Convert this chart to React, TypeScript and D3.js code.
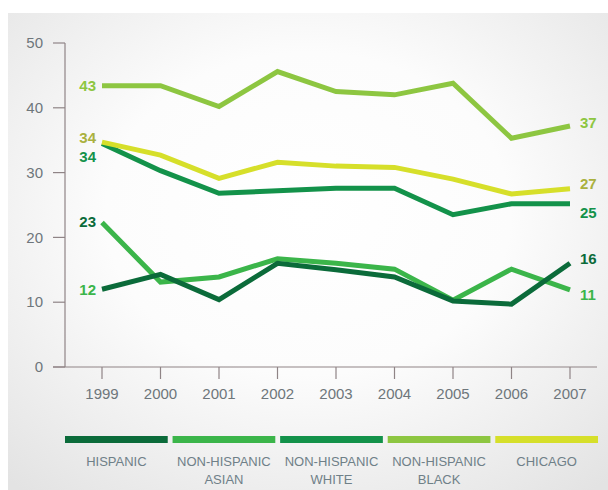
import React from "react";
import * as d3 from "d3";

const years = [1999, 2000, 2001, 2002, 2003, 2004, 2005, 2006, 2007];
const hispanic = [12.0, 14.3, 10.4, 16.0, 15.0, 13.9, 10.2, 9.7, 16.0];
const asian = [22.3, 13.1, 13.9, 16.7, 16.0, 15.1, 10.3, 15.1, 11.9];
const white = [34.5, 30.3, 26.8, 27.2, 27.6, 27.6, 23.5, 25.2, 25.2];
const black = [43.4, 43.4, 40.2, 45.6, 42.5, 42.0, 43.8, 35.3, 37.2];
const chicago = [34.7, 32.7, 29.1, 31.6, 31.0, 30.8, 29.0, 26.7, 27.5];
const yTicks = [0, 10, 20, 30, 40, 50];
const legendNames = [
  ["HISPANIC"],
  ["NON-HISPANIC", "ASIAN"],
  ["NON-HISPANIC", "WHITE"],
  ["NON-HISPANIC", "BLACK"],
  ["CHICAGO"],
];
const startLabels = ["12", "23", "34", "43", "34"];
const endLabels = ["16", "11", "25", "37", "27"];

const colors = ["#0b6b3a", "#3bb54a", "#13924a", "#8dc641", "#d6df2a"];
const labelColors = ["#0b6b3a", "#3bb54a", "#13924a", "#8dc641", "#aab13e"];

export default function App() {
  const W = 608;
  const H = 490;
  const x = d3.scaleLinear().domain([1999, 2007]).range([102, 570]);
  const y = d3.scaleLinear().domain([0, 50]).range([367, 43]);
  const series = [hispanic, asian, white, black, chicago];
  const drawOrder = [3, 2, 4, 1, 0];
  const line = d3
    .line<number>()
    .x((_, i) => x(years[i]))
    .y((d) => y(d));

  const startCfg = [
    { s: 0, c: 1, dy: 1 },
    { s: 1, c: 0, dy: -1 },
    { s: 2, c: 2, dy: 13 },
    { s: 3, c: 3, dy: 0 },
    { s: 4, c: 4, dy: -4 },
  ];
  const endCfg = [
    { s: 0, c: 0, dy: -5 },
    { s: 1, c: 1, dy: 5 },
    { s: 2, c: 2, dy: 9 },
    { s: 3, c: 3, dy: -3 },
    { s: 4, c: 4, dy: -5 },
  ];

  const legendX = d3.scaleBand().domain(legendNames.map((_, i) => String(i))).range([65, 598]).paddingInner(0.045);

  const font = "'Liberation Sans', Arial, Helvetica, sans-serif";
  const tickColor = "#6e767b";
  const axisColor = "#8f8486";

  return (
    <svg width={W} height={H} style={{ position: "absolute", left: 0, top: 0 }} fontFamily={font}>
      <defs>
        <radialGradient id="bg" cx="0.5" cy="0.42" r="0.75">
          <stop offset="0" stopColor="#ffffff" />
          <stop offset="0.45" stopColor="#fcfcfc" />
          <stop offset="1" stopColor="#e3e3e3" />
        </radialGradient>
      </defs>
      <rect x={0} y={0} width={W} height={H} fill="#ffffff" />
      <rect x={8} y={13} width={W - 8} height={H - 13} fill="url(#bg)" />

      <line x1={65} x2={65} y1={y(50)} y2={y(0)} stroke={axisColor} strokeWidth={1.2} />
      {yTicks.map((t) => (
        <g key={t}>
          <line x1={53} x2={65} y1={y(t)} y2={y(t)} stroke={axisColor} strokeWidth={1.2} />
          <text x={43} y={y(t)} dy="0.35em" textAnchor="end" fontSize={15} fill={tickColor}>
            {t}
          </text>
        </g>
      ))}

      <line x1={53} x2={597} y1={y(0)} y2={y(0)} stroke={axisColor} strokeWidth={1.2} />
      {years.map((yr) => (
        <g key={yr}>
          <line x1={x(yr)} x2={x(yr)} y1={y(0)} y2={y(0) + 12} stroke={axisColor} strokeWidth={1.2} />
          <text x={x(yr)} y={394} dy="0.35em" textAnchor="middle" fontSize={15} fill={tickColor}>
            {yr}
          </text>
        </g>
      ))}

      {drawOrder.map((i) => (
        <path
          key={i}
          d={line(series[i]) || ""}
          fill="none"
          stroke={colors[i]}
          strokeWidth={5}
          strokeLinejoin="miter"
        />
      ))}

      {startCfg.map((c, k) => (
        <text
          key={"s" + k}
          x={x(years[0]) - 6}
          y={y(series[c.s][0]) + c.dy}
          dy="0.35em"
          textAnchor="end"
          fontSize={15}
          fontWeight="bold"
          fill={labelColors[c.c]}
        >
          {startLabels[c.s]}
        </text>
      ))}
      {endCfg.map((c, k) => (
        <text
          key={"e" + k}
          x={x(years[years.length - 1]) + 10}
          y={y(series[c.s][years.length - 1]) + c.dy}
          dy="0.35em"
          textAnchor="start"
          fontSize={15}
          fontWeight="bold"
          fill={labelColors[c.c]}
        >
          {endLabels[c.s]}
        </text>
      ))}

      {legendNames.map((lines, i) => {
        const bx = legendX(String(i)) || 0;
        const bw = legendX.bandwidth();
        return (
          <g key={"l" + i}>
            <rect x={bx} y={436} width={bw} height={7} fill={colors[i]} />
            {lines.map((t, j) => (
              <text
                key={j}
                x={bx + bw / 2}
                y={461 + j * 18}
                dy="0.35em"
                textAnchor="middle"
                fontSize={13}
                fill="#6f8088"
              >
                {t}
              </text>
            ))}
          </g>
        );
      })}
    </svg>
  );
}
